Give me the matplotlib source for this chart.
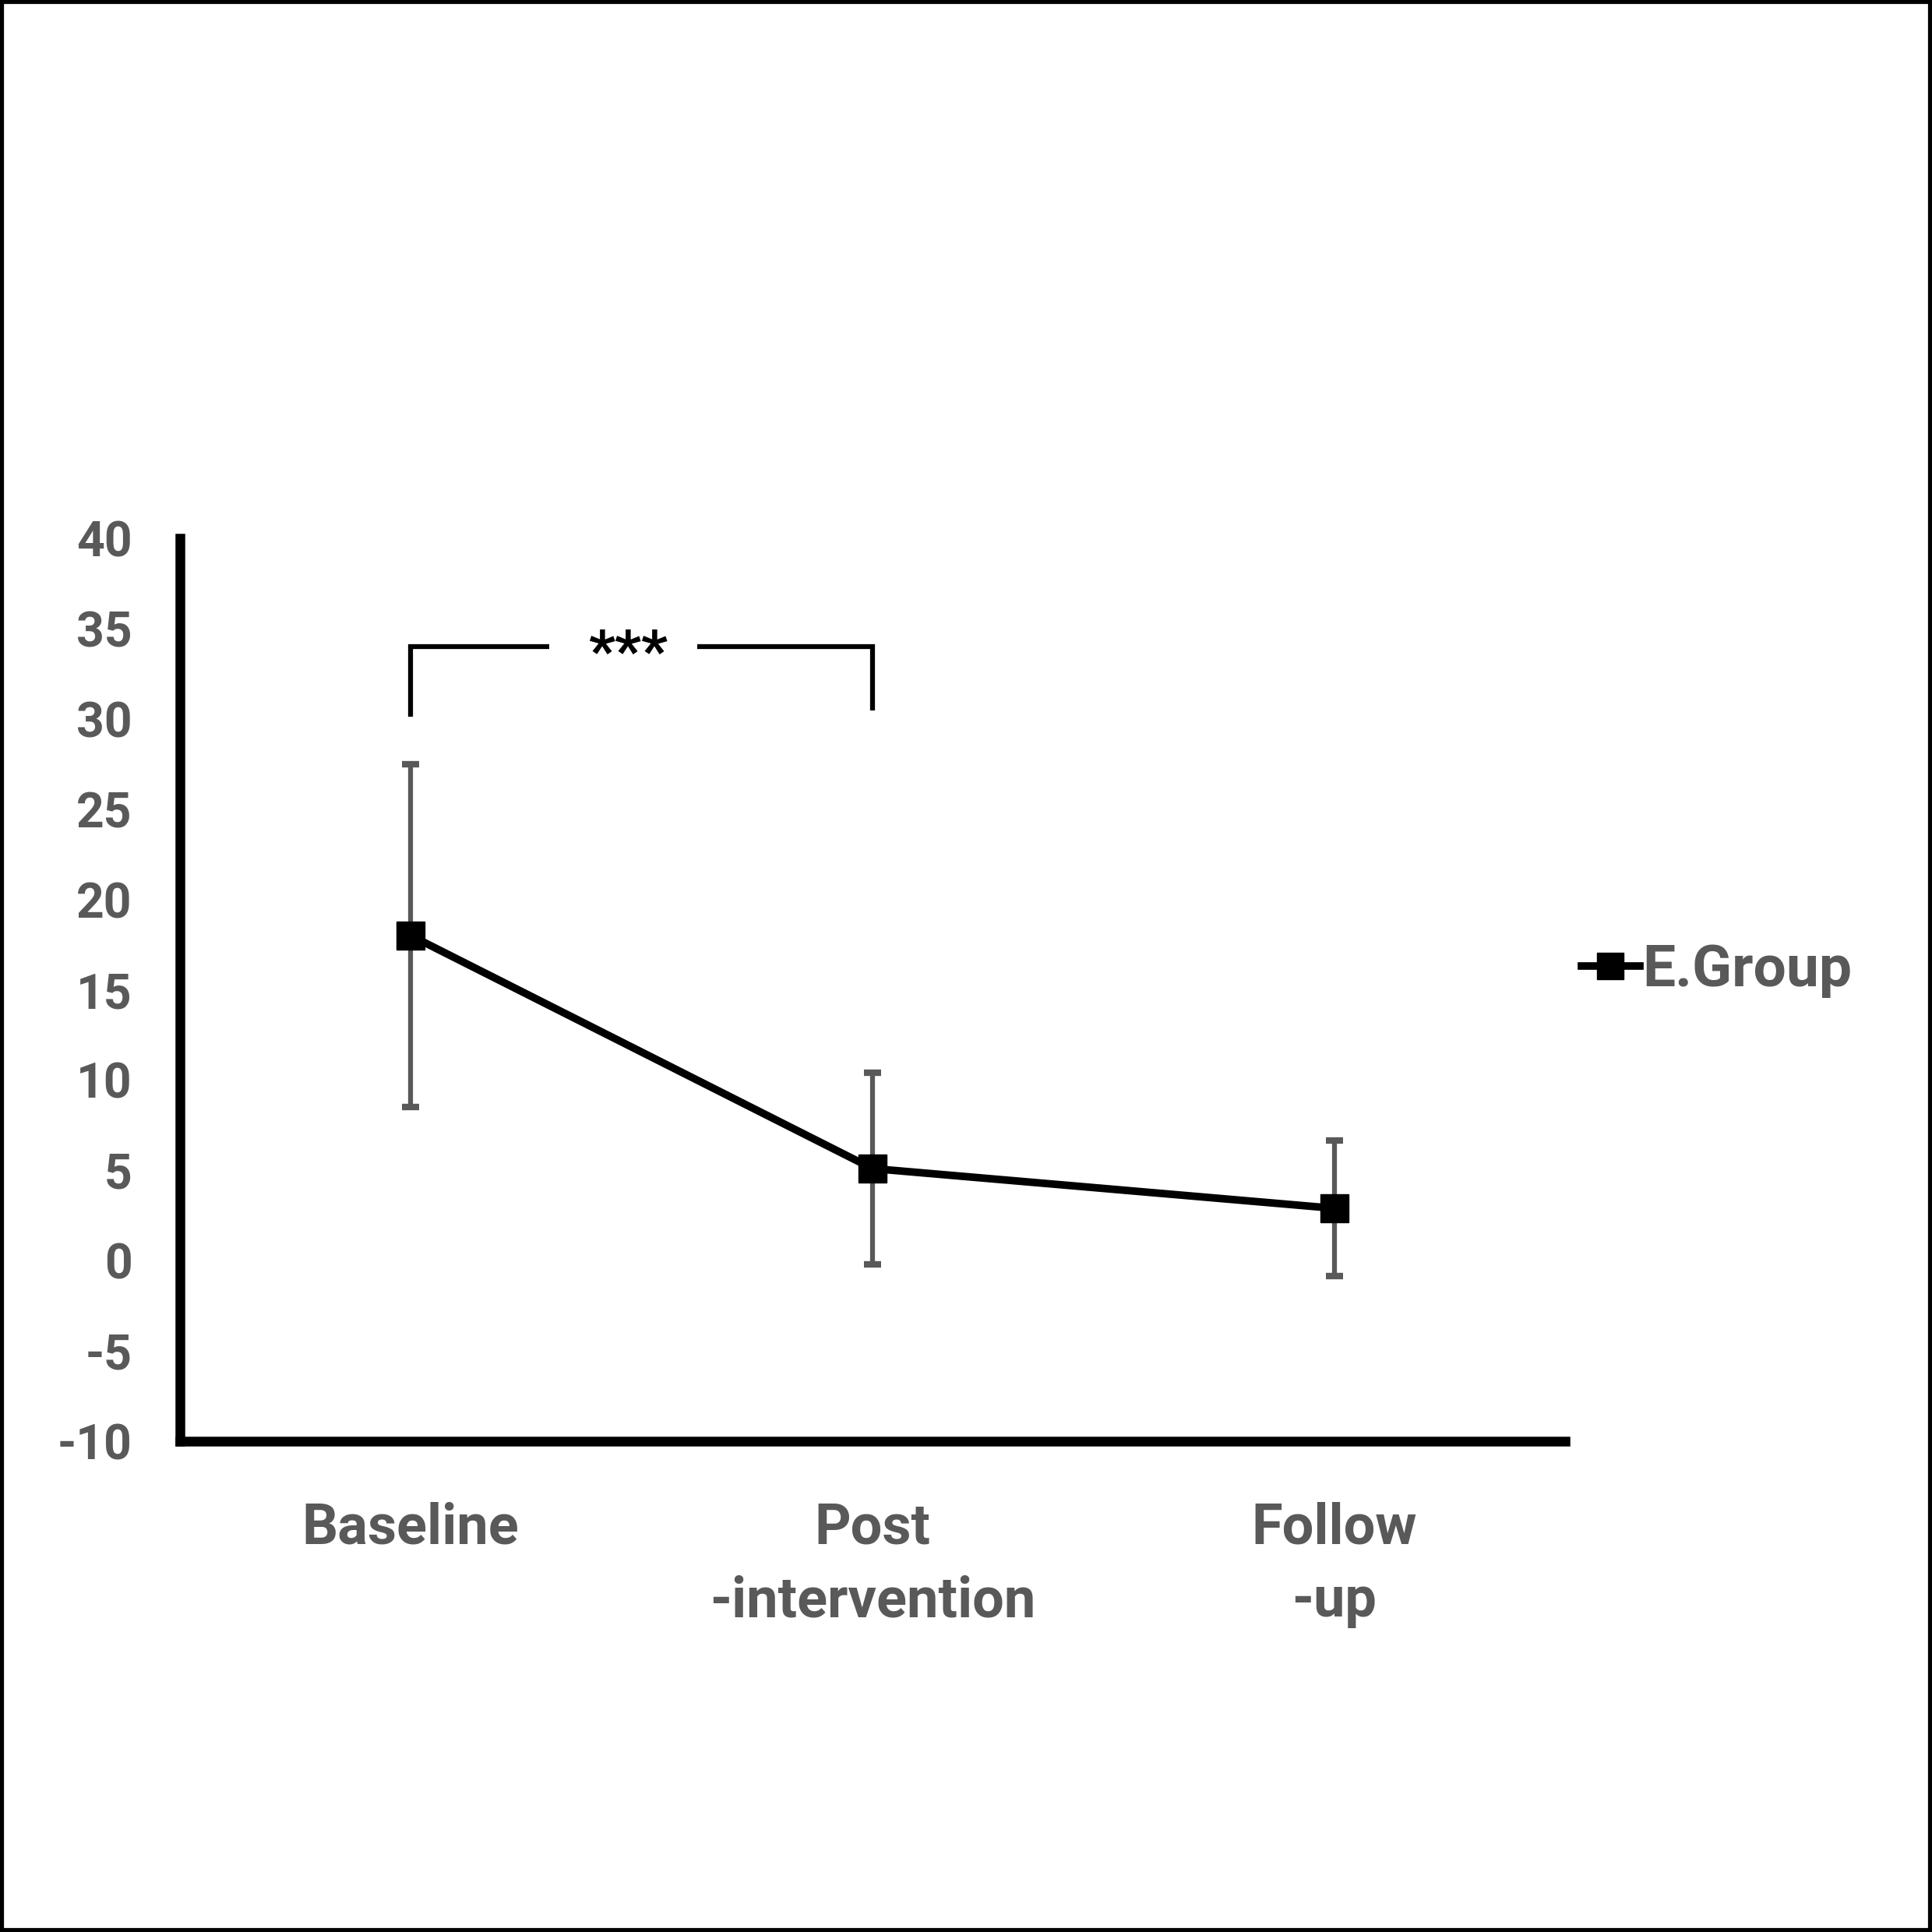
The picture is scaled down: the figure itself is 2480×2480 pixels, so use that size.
import matplotlib
matplotlib.use("Agg")
import matplotlib.pyplot as plt
from matplotlib.patches import Rectangle

# ---- data ----
categories = ["Baseline", "Post\n-intervention", "Follow\n-up"]
means = [18.0, 5.1, 2.9]
sds = [9.5, 5.3, 3.75]
series_label = "E.Group"
y_ticks = [40, 35, 30, 25, 20, 15, 10, 5, 0, -5, -10]
y_tick_labels = ["40", "35", "30", "25", "20", "15", "10", "5", "0", "-5", "-10"]
sig_pair = (0, 1)
sig_text = "***"

plt.rcParams['font.family'] = ['Roboto', 'DejaVu Sans']

fig = plt.figure(figsize=(24.8, 24.8), dpi=100)
fig.patch.set_facecolor("white")
ax = fig.add_axes([0.0931, 0.254, 0.717, 0.4674])

x = list(range(len(categories)))
gray = "#595959"

ax.errorbar(x, means, yerr=sds, fmt="none", ecolor=gray, elinewidth=4.5,
            capsize=8, capthick=6, zorder=2)
ax.plot(x, means, color="black", linewidth=7, marker="s", markersize=26,
        markerfacecolor="black", markeredgecolor="black", label=series_label,
        zorder=3)

ax.set_xlim(-0.5, 2.5)
ax.set_ylim(-10, 40)
ax.set_yticks(y_ticks)
ax.set_yticklabels(y_tick_labels)
ax.set_xticks(x)
ax.set_xticklabels(categories, linespacing=1.45)

for s in ["top", "right"]:
    ax.spines[s].set_visible(False)
for s in ["left", "bottom"]:
    ax.spines[s].set_linewidth(9)
    ax.spines[s].set_color("black")
    ax.spines[s].set_capstyle("projecting")

ax.tick_params(axis="y", length=0, pad=44, labelsize=45, labelcolor=gray)
ax.tick_params(axis="x", length=0, pad=56, labelsize=52, labelcolor=gray)
for lab in ax.get_xticklabels() + ax.get_yticklabels():
    lab.set_fontweight("bold")

# significance bracket
x0, x1 = sig_pair
ybar = 34.0
lw = 4.5
ax.plot([x0, x0, x0 + 0.30], [30.1, ybar, ybar], color="black", lw=lw,
        solid_capstyle="butt", solid_joinstyle="miter", clip_on=False)
ax.plot([x0 + 0.62, x1, x1], [ybar, ybar, 30.45], color="black", lw=lw,
        solid_capstyle="butt", solid_joinstyle="miter", clip_on=False)
ax.text((x0 + x1) / 2 - 0.03, ybar - 0.45, sig_text, ha="center", va="center",
        fontsize=54, fontweight="bold", color="black")

leg = fig.legend(loc="center left", bbox_to_anchor=(0.8185, 0.4976),
                 frameon=False, fontsize=54, handlelength=1.0,
                 handletextpad=0.05, borderpad=0, borderaxespad=0)
for t in leg.get_texts():
    t.set_color(gray)
    t.set_fontweight("bold")
for h in leg.legend_handles:
    h.set_markersize(24)

# outer frame
fig.patches.append(Rectangle((0.001, 0.001), 0.998, 0.998, transform=fig.transFigure,
                             fill=False, edgecolor="black", linewidth=4.5))

fig.savefig("out.png", dpi=100, facecolor="white")
